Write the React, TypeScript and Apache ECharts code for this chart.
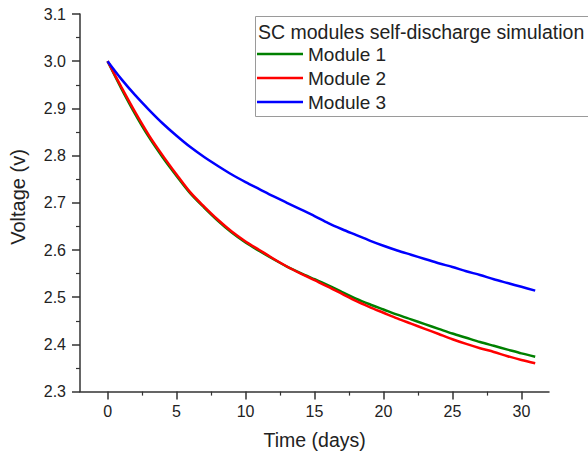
import React, { useEffect, useRef } from "react";
import * as echarts from "echarts";

const days = [0, 1, 2, 3, 4, 5, 6, 7, 8, 9, 10, 11, 12, 13, 14, 15, 16, 17, 18, 19, 20, 21, 22, 23, 24, 25, 26, 27, 28, 29, 30, 31];
const module1 = [3.0, 2.942, 2.888, 2.839, 2.796, 2.757, 2.72, 2.69, 2.662, 2.637, 2.616, 2.598, 2.581, 2.565, 2.551, 2.538, 2.525, 2.511, 2.497, 2.485, 2.474, 2.463, 2.453, 2.443, 2.433, 2.423, 2.414, 2.405, 2.397, 2.389, 2.381, 2.374];
const module2 = [3.0, 2.945, 2.892, 2.843, 2.8, 2.76, 2.722, 2.692, 2.664, 2.639, 2.618, 2.6, 2.582, 2.565, 2.55, 2.536, 2.522, 2.507, 2.492, 2.479, 2.467, 2.455, 2.444, 2.433, 2.422, 2.411, 2.401, 2.392, 2.384, 2.375, 2.367, 2.36];
const module3 = [3.0, 2.962, 2.928, 2.897, 2.868, 2.842, 2.818, 2.797, 2.778, 2.76, 2.744, 2.729, 2.714, 2.7, 2.686, 2.672, 2.657, 2.644, 2.632, 2.62, 2.609, 2.599, 2.59, 2.581, 2.572, 2.564, 2.555, 2.547, 2.538, 2.53, 2.522, 2.514];
const seriesNames = ["Module 1", "Module 2", "Module 3"];
const seriesColors = ["#008000", "#ff0000", "#0000ff"];
const xTickValues = [0, 5, 10, 15, 20, 25, 30];
const xMinorTickValues = [2.5, 7.5, 12.5, 17.5, 22.5, 27.5];
const legendTitle = "SC modules self-discharge simulation";
const xAxisTitle = "Time (days)";
const yAxisTitle = "Voltage (v)";

const FONT = "'Liberation Sans', Arial, sans-serif";
const AXIS_COLOR = "#333";
const TEXT_COLOR = "#222";

export default function App() {
  const ref = useRef<HTMLDivElement>(null);

  useEffect(() => {
    document.body.style.margin = "0";
    if (!ref.current) return;
    const chart = echarts.init(ref.current, undefined, { renderer: "svg" });
    const allValues = [module1, module2, module3];
    const option: any = {
      animation: false,
      backgroundColor: "#ffffff",
      textStyle: { fontFamily: FONT },
      grid: { left: 80, top: 14, width: 469, height: 377.6, containLabel: false, outerBoundsMode: "none" },
      xAxis: [
        {
          type: "value",
          min: -2,
          max: 32,
          axisLine: { show: true, onZero: false, lineStyle: { color: AXIS_COLOR, width: 1.5 } },
          axisTick: { show: true, length: 8, customValues: xTickValues, lineStyle: { color: AXIS_COLOR, width: 1.5 } },
          axisLabel: { show: true, customValues: xTickValues, fontSize: 16, color: TEXT_COLOR, margin: 12, fontFamily: FONT },
          splitLine: { show: false },
        },
        {
          type: "value",
          min: -2,
          max: 32,
          position: "bottom",
          axisLine: { show: false, onZero: false },
          axisTick: { show: true, length: 4, customValues: xMinorTickValues, lineStyle: { color: AXIS_COLOR, width: 1.2 } },
          axisLabel: { show: false },
          splitLine: { show: false },
        },
      ],
      yAxis: {
        type: "value",
        min: 2.3,
        max: 3.1,
        interval: 0.1,
        axisLine: { show: true, onZero: false, lineStyle: { color: AXIS_COLOR, width: 1.5 } },
        axisTick: { show: true, length: 8, lineStyle: { color: AXIS_COLOR, width: 1.5 } },
        minorTick: { show: true, splitNumber: 2, length: 4, lineStyle: { color: AXIS_COLOR, width: 1.2 } },
        axisLabel: {
          fontSize: 16,
          color: TEXT_COLOR,
          margin: 14,
          fontFamily: FONT,
          formatter: (v: number) => v.toFixed(1),
        },
        splitLine: { show: false },
      },
      legend: {
        data: seriesNames,
        orient: "vertical",
        left: 257,
        top: 44.5,
        icon: "rect",
        itemWidth: 46,
        itemHeight: 2.5,
        itemGap: 5,
        padding: 0,
        textStyle: { fontSize: 19, lineHeight: 19, color: TEXT_COLOR, fontFamily: FONT },
      },
      graphic: [
        {
          type: "rect",
          z: 0,
          shape: { x: 255.5, y: 16.5, width: 400, height: 100 },
          style: { fill: "#ffffff", stroke: "#9a9a9a", lineWidth: 1 },
        },
        {
          type: "text",
          z: 1,
          x: 258,
          y: 31.5,
          style: {
            text: legendTitle,
            fontSize: 19.5,
            fontFamily: FONT,
            fill: TEXT_COLOR,
            verticalAlign: "middle",
            align: "left",
          },
        },
        {
          type: "text",
          x: 314.7,
          y: 440,
          style: {
            text: xAxisTitle,
            fontSize: 19.5,
            fontFamily: FONT,
            fill: TEXT_COLOR,
            verticalAlign: "middle",
            align: "center",
          },
        },
        {
          type: "text",
          x: 18,
          y: 197,
          rotation: Math.PI / 2,
          style: {
            text: yAxisTitle,
            fontSize: 20,
            fontFamily: FONT,
            fill: TEXT_COLOR,
            verticalAlign: "middle",
            align: "center",
          },
        },
      ],
      series: seriesNames.map((name, i) => ({
        name,
        type: "line",
        xAxisIndex: 0,
        symbol: "none",
        showSymbol: false,
        smooth: 0.3,
        lineStyle: { color: seriesColors[i], width: 2.5 },
        itemStyle: { color: seriesColors[i] },
        data: days.map((d, j) => [d, allValues[i][j]]),
      })),
    };
    chart.setOption(option);
    return () => chart.dispose();
  }, []);

  return <div ref={ref} style={{ width: 588, height: 452 }} />;
}
